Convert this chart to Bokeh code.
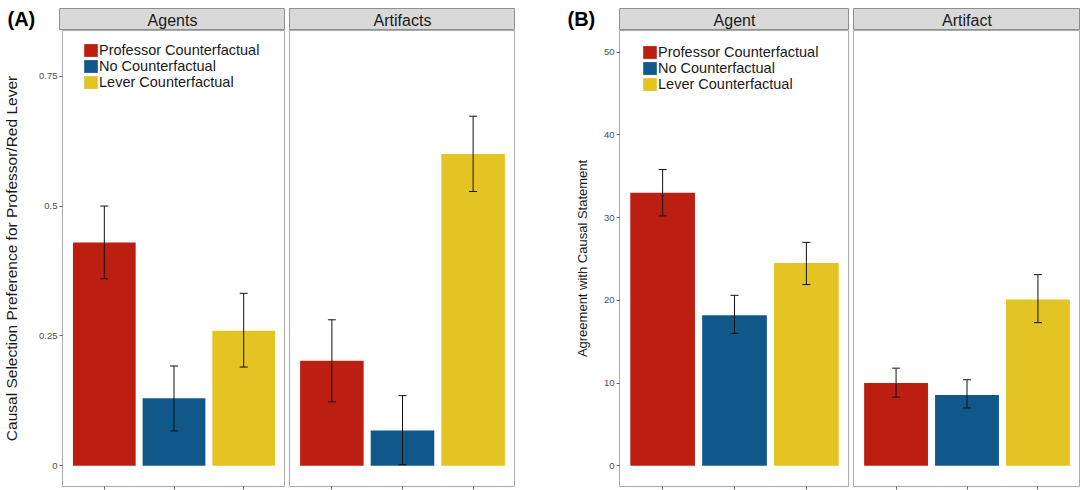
from bokeh.plotting import figure
from bokeh.models import (ColumnDataSource, Whisker, TeeHead, FactorRange, Range1d,
                          FixedTicker, Spacer)
from bokeh.layouts import row, column
from bokeh.embed import file_html
from bokeh.resources import INLINE
from bokeh.core.properties import value

# ---------------- data ----------------
groups = ["Professor Counterfactual", "No Counterfactual", "Lever Counterfactual"]
group_colors = ["#BC1F11", "#10578A", "#E3C422"]

a_agents_mean = [0.43, 0.13, 0.26]
a_agents_lo = [0.36, 0.067, 0.19]
a_agents_hi = [0.50, 0.192, 0.332]

a_artifacts_mean = [0.202, 0.068, 0.60]
a_artifacts_lo = [0.123, 0.002, 0.528]
a_artifacts_hi = [0.281, 0.135, 0.673]

b_agent_mean = [33.0, 18.2, 24.5]
b_agent_lo = [30.2, 16.0, 21.9]
b_agent_hi = [35.8, 20.6, 27.0]

b_artifact_mean = [10.0, 8.55, 20.1]
b_artifact_lo = [8.3, 7.0, 17.3]
b_artifact_hi = [11.8, 10.4, 23.1]

a_ticks = [0, 0.25, 0.5, 0.75]
a_tick_labels = ["0", "0.25", "0.5", "0.75"]
b_ticks = [0, 10, 20, 30, 40, 50]
b_tick_labels = ["0", "10", "20", "30", "40", "50"]

FONT = "Liberation Sans"
TOP = 8
STRIP_H = 30
MAIN_H = 460
BOTTOM = 4
FRAME_H = MAIN_H - BOTTOM
LEG_ITEM_H = 16


def panel(mean, lo, hi, yr, width, left, yaxis=None, ylabel=None, ylabel_size="15px",
          ylabel_standoff=15, legend_pos=None):
    src = ColumnDataSource(dict(group=groups, mean=mean, lo=lo, hi=hi, color=group_colors))
    p = figure(width=width, height=MAIN_H, toolbar_location=None, output_backend="svg",
               x_range=FactorRange(factors=groups, range_padding=0.2 / 3,
                                   range_padding_units="percent"),
               y_range=Range1d(*yr),
               y_axis_location="left" if yaxis else None,
               min_border_left=left, min_border_right=0, min_border_top=0,
               min_border_bottom=BOTTOM)
    kw = dict(legend_field="group") if legend_pos else {}
    p.vbar(x="group", top="mean", bottom=0, width=0.9, source=src, fill_color="color",
           line_color=None, **kw)
    w = Whisker(base="group", upper="hi", lower="lo", source=src, line_color="#111111",
                line_width=1, level="overlay",
                upper_head=TeeHead(size=8, line_color="#111111", line_width=1),
                lower_head=TeeHead(size=8, line_color="#111111", line_width=1))
    p.add_layout(w)
    p.grid.visible = False
    p.outline_line_color = "#ABABAB"
    p.outline_line_width = 1
    p.background_fill_color = "white"
    p.border_fill_color = "white"
    xa = p.xaxis[0]
    xa.axis_line_color = None
    xa.major_tick_line_color = "#666666"
    xa.major_tick_in = 0
    xa.major_tick_out = 3
    xa.minor_tick_line_color = None
    xa.major_label_text_font_size = "0px"
    xa.major_label_text_alpha = 0
    xa.major_label_standoff = 0
    if yaxis:
        ticks, labels = yaxis
        ya = p.yaxis[0]
        ya.ticker = FixedTicker(ticks=ticks)
        ya.major_label_overrides = {t: l for t, l in zip(ticks, labels)}
        ya.axis_line_color = None
        ya.major_tick_line_color = "#666666"
        ya.major_tick_in = 0
        ya.major_tick_out = 3
        ya.minor_tick_line_color = None
        ya.major_label_text_font = FONT
        ya.major_label_text_font_size = "9.5px"
        ya.major_label_text_color = "#4D4D4D"
        ya.major_label_standoff = 2
        ya.axis_label = ylabel
        ya.axis_label_text_font = FONT
        ya.axis_label_text_font_size = ylabel_size
        ya.axis_label_text_font_style = "normal"
        ya.axis_label_text_color = "#1A1A1A"
        ya.axis_label_standoff = ylabel_standoff
    if legend_pos:
        lx, ltop = legend_pos
        lg = p.legend[0]
        lg.location = (lx, FRAME_H - ltop - 3 * LEG_ITEM_H)
        lg.margin = 0
        lg.padding = 0
        lg.spacing = 0
        lg.glyph_width = 17
        lg.glyph_height = LEG_ITEM_H
        lg.label_height = LEG_ITEM_H
        lg.label_standoff = 0
        lg.label_text_font = FONT
        lg.label_text_font_size = "14.5px"
        lg.label_text_color = "#1A1A1A"
        lg.background_fill_alpha = 0
        lg.border_line_color = None
    return p


def strip(text, width):
    s = figure(width=width, height=STRIP_H, toolbar_location=None, output_backend="svg",
               x_range=Range1d(0, 1), y_range=Range1d(0, 1),
               x_axis_location=None, y_axis_location=None,
               min_border=0, min_border_top=TOP)
    s.grid.visible = False
    s.background_fill_color = "#D9D9D9"
    s.border_fill_color = "white"
    s.outline_line_color = "#8F8F8F"
    s.text(x=[0.5], y=[0.45], text=[text], text_align="center", text_baseline="middle",
           text_font=value(FONT), text_font_size="16px", text_color="#1A1A1A")
    return s


def tag(text, width, xpos):
    h = STRIP_H - TOP
    t = figure(width=width, height=STRIP_H, toolbar_location=None, output_backend="svg",
               x_range=Range1d(0, width), y_range=Range1d(0, h),
               x_axis_location=None, y_axis_location=None, min_border=0,
               min_border_top=TOP)
    t.grid.visible = False
    t.outline_line_color = None
    t.background_fill_color = "white"
    t.border_fill_color = "white"
    t.text(x=[xpos], y=[h - 10.5], text=[text], text_align="left",
           text_baseline="middle", text_font=value(FONT), text_font_size="20px",
           text_font_style="bold", text_color="#000000")
    return t


yrA = (-0.04, 0.838)
yrB = (-2.5, 52.6)

A1 = panel(a_agents_mean, a_agents_lo, a_agents_hi, yrA, 285, 59,
           yaxis=(a_ticks, a_tick_labels),
           ylabel="Causal Selection Preference for Professor/Red Lever",
           ylabel_size="15.5px", ylabel_standoff=16, legend_pos=(20, 12))
A2 = panel(a_artifacts_mean, a_artifacts_lo, a_artifacts_hi, yrA, 230, 4)
B1 = panel(b_agent_mean, b_agent_lo, b_agent_hi, yrB, 334, 104,
           yaxis=(b_ticks, b_tick_labels),
           ylabel="Agreement with Causal Statement",
           ylabel_size="13px", ylabel_standoff=11, legend_pos=(22, 14))
B2 = panel(b_artifact_mean, b_artifact_lo, b_artifact_hi, yrB, 231, 4)

top = row(tag("(A)", 59, 7), strip("Agents", 226), Spacer(width=4, height=STRIP_H),
          strip("Artifacts", 226), tag("(B)", 104, 52), strip("Agent", 230),
          Spacer(width=4, height=STRIP_H), strip("Artifact", 227))
bottom = row(A1, A2, B1, B2)
layout = column(top, bottom)

open("out.html", "w").write(file_html(layout, INLINE))
